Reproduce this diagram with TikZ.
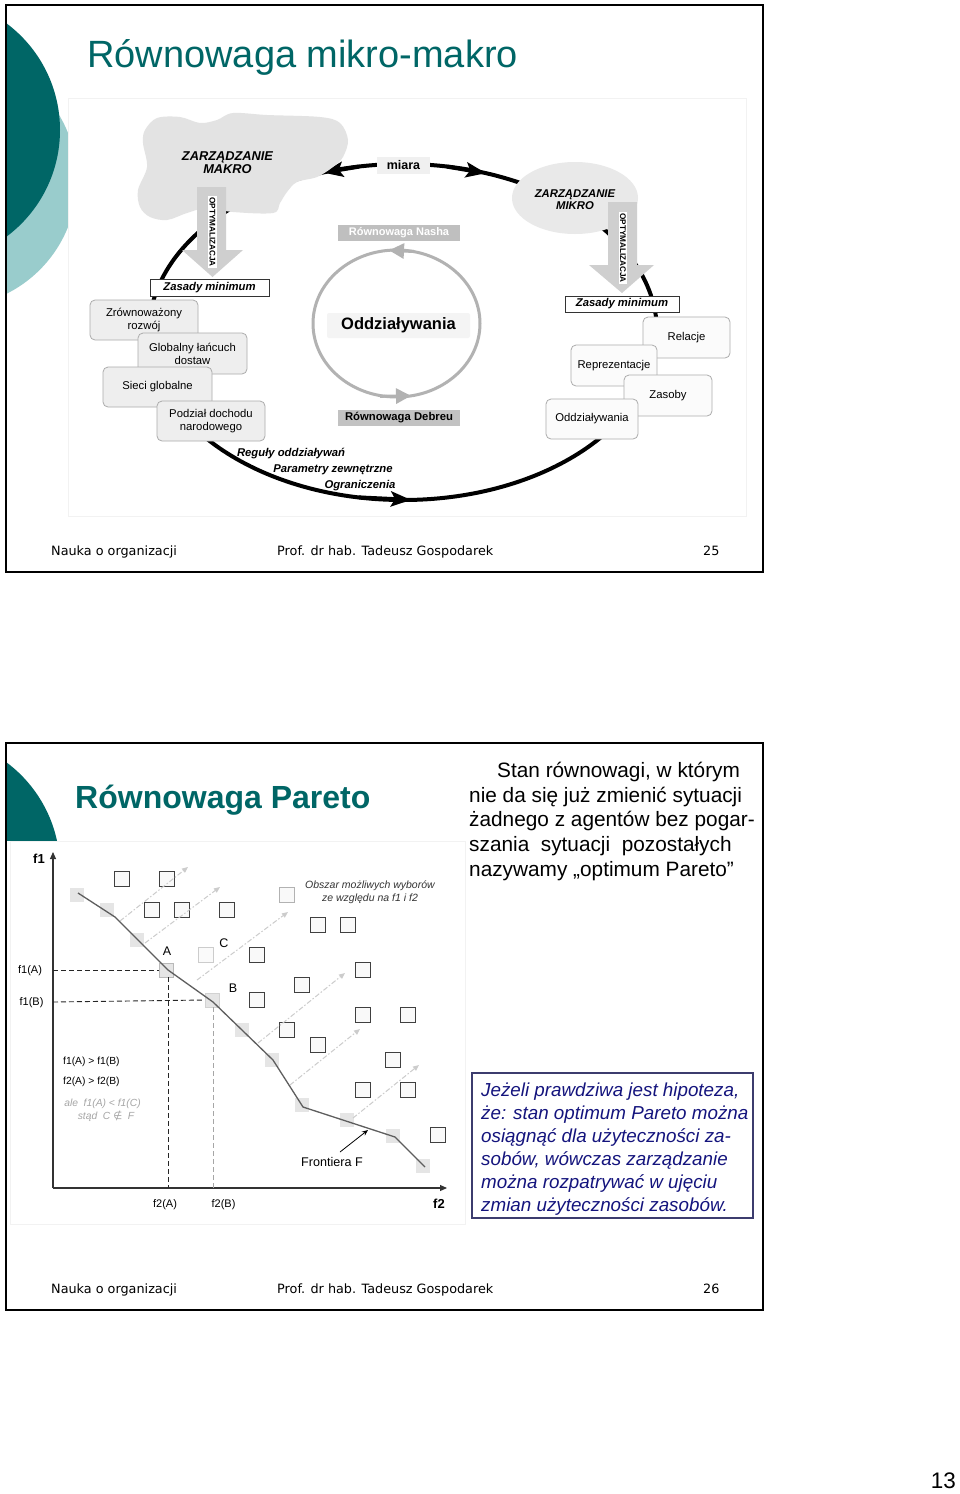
\documentclass[tikz,border=0pt]{standalone}
\usepackage{fontspec}
\setmainfont{Liberation Sans}
\newfontfamily\footfont{DejaVu Sans}
\newfontfamily\djv{DejaVu Sans}
\usetikzlibrary{arrows.meta}
\definecolor{tealdark}{RGB}{0,102,102}
\definecolor{teallight}{RGB}{153,204,204}
\definecolor{navytext}{RGB}{20,20,125}
\definecolor{navyframe}{RGB}{60,60,110}
\newcommand\fz[2]{\fontsize{#1}{#2}\selectfont}
\tikzset{
  rb/.style={draw=gray!65, fill=gray!13, rounded corners=5pt, line width=0.8pt, align=center, inner sep=0pt, font=\fz{11.3}{12.8}},
  wb/.style={draw=gray!65, fill=gray!3, rounded corners=5pt, line width=0.8pt, align=center, inner sep=0pt, font=\fz{11.3}{12.8}},
  zb/.style={draw=black!80, fill=white, line width=0.8pt, inner sep=0pt, font=\bfseries\itshape\fz{11.3}{12}},
  bi/.style={anchor=base, inner sep=0pt, font=\bfseries\itshape\fz{11.3}{12}},
  bigtip/.style={line width=4pt, -{Stealth[length=20pt,width=15pt,inset=4pt]}},
  graytip/.style={draw=gray!60, line width=3pt, -{Triangle[length=15pt,width=15pt]}},
  optarrow/.style={fill=gray!38},
  optlbl/.style={rotate=-90, fill=white, inner xsep=0pt, inner ysep=1.3pt, minimum width=72pt, font=\bfseries\fz{8.2}{8}},
  foot/.style={anchor=base west, inner sep=0pt, font=\footfont\fz{12.8}{14}},
  gsq/.style={fill=gray!20, minimum size=14pt, inner sep=0pt},
  osq/.style={draw=black!75, fill=gray!5, minimum size=15pt, inner sep=0pt, line width=1pt},
  axis/.style={line width=1.1pt, draw=black!80, -{Triangle[length=7pt,width=6pt]}},
  guide/.style={dash pattern=on 5pt off 3pt, line width=0.9pt},
  dar/.style={draw=gray!40, dash pattern=on 5pt off 2pt on 1.5pt off 2pt, line width=1pt, -{Triangle[length=6pt,width=5pt]}},
  lab/.style={anchor=base, inner sep=0pt, font=\fz{11}{12}},
  ptxt/.style={anchor=base west, inner sep=0pt, font=\fz{20.8}{24}},
  htxt/.style={anchor=base west, inner sep=0pt, text=navytext, font=\itshape\fz{18.8}{22}}
}
\begin{document}
\begin{tikzpicture}[x=1pt,y=-1pt]
\useasboundingbox (0,0) rectangle (960,1494);
\fill[white] (0,0) rectangle (960,1494);

%================ SLIDE 1 ================
\begin{scope}
\clip (6,5) rectangle (763,572);
\fill[teallight] (-50,180) circle[radius=127];
\fill[tealdark] (-73,130) circle[radius=133];
\end{scope}
\filldraw[fill=white, draw=gray!10, line width=0.6pt] (68,98) rectangle (746,516);
\draw[line width=2.2pt] (6,5) rectangle (763,572);

\node[anchor=base west, inner sep=0pt, text=tealdark, font=\fz{38}{40}] (t1) at (87,67) {Równowaga mikro-makro};

% big loop
\coordinate (bigc) at (403,332);
\draw[line width=4pt] (bigc) ellipse[x radius=254, y radius=168];
\coordinate (a1b) at (359,166.6); \coordinate (a1t) at (323,172.6);
\draw[bigtip] (a1b) -- (a1t);
\coordinate (a2b) at (447,166.6); \coordinate (a2t) at (486,173.2);
\draw[bigtip] (a2b) -- (a2t);
\coordinate (a3b) at (359,497.4); \coordinate (a3t) at (411,499.9);
\draw[bigtip] (a3b) -- (a3t);

% cloud MAKRO
\fill[gray!22] plot[smooth cycle, tension=0.55] coordinates {(145,130) (157,118) (180,117) (200,123) (217,120) (233,113) (267,115) (320,117) (340,123) (348,140) (343,157) (333,167) (317,177) (297,182) (287,192) (280,203) (273,213) (233,212) (207,208) (187,213) (167,220) (150,217) (140,207) (138,190) (147,167) (143,143)};
\node[anchor=base, inner sep=0pt, font=\bfseries\itshape\fz{12.8}{14}] (mak1) at (227.5,160) {ZARZĄDZANIE};
\node[anchor=base, inner sep=0pt, font=\bfseries\itshape\fz{12.8}{14}] (mak2) at (227.5,173) {MAKRO};

% ellipse MIKRO
\fill[gray!17] (575,198) ellipse[x radius=63, y radius=36];
\node[anchor=base, inner sep=0pt, font=\bfseries\itshape\fz{11.3}{12}] (mik1) at (575,197) {ZARZĄDZANIE};
\node[anchor=base, inner sep=0pt, font=\bfseries\itshape\fz{11.3}{12}] (mik2) at (575,209) {MIKRO};

% optimisation arrows
\fill[optarrow] (197,187) -- (226,187) -- (226,250) -- (243,250) -- (212.5,277) -- (182,250) -- (197,250) -- cycle;
\node[optlbl] (opt1) at (212.5,232) {OPTYMALIZACJA};
\fill[optarrow] (608,202) -- (637,202) -- (637,265) -- (654,265) -- (622,293) -- (589,265) -- (608,265) -- cycle;
\node[optlbl] (opt2) at (623,248) {OPTYMALIZACJA};

% Zasady minimum
\node[zb, minimum width=119pt, minimum height=17pt] (zas1) at (209.5,287.5) {Zasady minimum};
\node[zb, minimum width=114pt, minimum height=16pt] (zas2) at (622,304) {Zasady minimum};

% left boxes
\node[rb, minimum width=108pt, minimum height=40pt] (b1) at (144,320) {Zrównoważony\\rozwój};
\node[rb, minimum width=109pt, minimum height=41pt] (b2) at (192.5,353.5) {Globalny łańcuch\\dostaw};
\node[rb, minimum width=109pt, minimum height=40pt] (b3) at (157.5,387) {Sieci globalne};
\node[rb, minimum width=108pt, minimum height=40pt] (b4) at (211,421) {Podział dochodu\\narodowego};

% right boxes
\node[wb, minimum width=87pt, minimum height=41pt] (r1) at (686.5,337.5) {Relacje};
\node[wb, minimum width=86pt, minimum height=41pt] (r2) at (614,365.5) {Reprezentacje};
\node[wb, minimum width=88pt, minimum height=41pt] (r3) at (668,395.5) {Zasoby};
\node[wb, minimum width=92pt, minimum height=40pt] (r4) at (592,419) {Oddziaływania};

% central circle
\coordinate (cc) at (396.5,323.5);
\draw[draw=gray!60, line width=3pt] (cc) ellipse[x radius=83.5, y radius=73.5];
\coordinate (g1b) at (414,251.5); \coordinate (g1t) at (389,250.3);
\draw[graytip] (g1b) -- (g1t);
\coordinate (g2b) at (380,396.3); \coordinate (g2t) at (411,395.8);
\draw[graytip] (g2b) -- (g2t);
\node[fill=gray!9, rounded corners=2pt, minimum width=143pt, minimum height=25pt, inner sep=0pt, font=\bfseries\fz{16.5}{18}] (odz) at (398.5,325.5) {Oddziaływania};
\node[fill=gray!50, text=white, minimum width=122pt, minimum height=16pt, inner sep=0pt, font=\bfseries\fz{11}{12}] (nash) at (399,232.5) {Równowaga Nasha};
\node[fill=gray!48, minimum width=122pt, minimum height=16pt, inner sep=0pt, font=\bfseries\fz{11.3}{12}] (deb) at (399,418) {Równowaga Debreu};
\node[fill=gray!12, minimum width=53pt, minimum height=17pt, inner sep=0pt, font=\bfseries\fz{12.5}{13}] (miara) at (403.5,165.5) {miara};

% bottom labels
\node[bi] (l1) at (291,456) {Reguły oddziaływań};
\node[bi] (l2) at (333,472) {Parametry zewnętrzne};
\node[bi] (l3) at (360,488) {Ograniczenia};

% footer 1
\node[foot] (f1a) at (51,555) {Nauka o organizacji};
\node[foot] (f1b) at (277,555) {Prof. dr hab. Tadeusz Gospodarek};
\node[foot] (f1c) at (703,555) {25};

%================ SLIDE 2 ================
\begin{scope}
\clip (6,743) rectangle (763,840.5);
\fill[tealdark] (-73,869) circle[radius=133];
\end{scope}
\draw[gray!10, line width=0.6pt] (10,841) rectangle (465,1224);
\draw[line width=2.2pt] (6,743) rectangle (763,1310);

\node[anchor=base west, inner sep=0pt, text=tealdark, font=\bfseries\fz{32}{34}] (t2) at (75,808) {Równowaga Pareto};

\node[ptxt] (p1) at (497,777) {Stan równowagi, w którym};
\node[ptxt] (p2) at (469,802) {nie da się już zmienić sytuacji};
\node[ptxt] (p3) at (469,826) {żadnego z agentów bez pogar-};
\node[ptxt] (p4) at (469,851) {szania\ \ sytuacji\ \ pozostałych};
\node[ptxt] (p5) at (469,876) {nazywamy „optimum Pareto”};

\node[draw=navyframe, line width=1.2pt, minimum width=281pt, minimum height=145pt, inner sep=0pt] (hbox) at (612.5,1145.5) {};
\node[htxt] (h1) at (481,1096) {Jeżeli prawdziwa jest hipoteza,};
\node[htxt] (h2) at (481,1119) {że: stan optimum Pareto można};
\node[htxt] (h3) at (481,1142) {osiągnąć dla użyteczności za-};
\node[htxt] (h4) at (481,1165) {sobów, wówczas zarządzanie};
\node[htxt] (h5) at (481,1188) {można rozpatrywać w ujęciu};
\node[htxt] (h6) at (481,1211) {zmian użyteczności zasobów.};

% chart
\coordinate (O) at (53,1188);
\coordinate (ytop) at (53,852);
\coordinate (xend) at (447,1188);
\draw[axis] (O) -- (ytop);
\draw[axis] (O) -- (xend);

% frontier squares
\foreach \x/\y [count=\i] in {77/895,107/910,137/940,242/1030,272/1060,302/1105,347/1120,393/1136,423/1166}
  \node[gsq] (fq\i) at (\x,\y) {};
\node[gsq, draw=gray!55, line width=0.8pt] (sqA) at (166,970) {};
\node[gsq, draw=gray!35, line width=0.8pt] (sqB) at (212,1000) {};
\node[osq, draw=gray!40, fill=gray!4] (sqC) at (206,955) {};
% other choices
\foreach \x/\y [count=\i] in {122/879,167/879,152/910,182/910,227/910,318/925,348/925,257/955,363/970,302/985,257/1000,363/1015,408/1015,287/1030,318/1045,393/1060,363/1090,408/1090,438/1135}
  \node[osq] (oq\i) at (\x,\y) {};
\node[osq, draw=gray!60] (oqx) at (287,895) {};

% guide lines
\coordinate (yA) at (53,970); \coordinate (xA) at (168,1188);
\coordinate (yB) at (53,1002); \coordinate (xB) at (213,1188);
\draw[guide, black!85] (yA) -- (sqA.west);
\draw[guide, black!85] (sqA.south -| xA) -- (xA);
\draw[guide, black!85] (yB) -- (sqB.west);
\draw[guide, gray!70] (sqB.south -| xB) -- (xB);

% dashed arrows
\foreach \ax/\ay/\bx/\by [count=\i] in {120/921/188/867,145/943/220/887,197/980/288/912,258/1043/345/973,290/1085/360/1029,353/1118/419/1065}{
  \coordinate (ds\i) at (\ax,\ay); \coordinate (de\i) at (\bx,\by);
  \draw[dar] (ds\i) -- (de\i);
}

% frontier
\draw[gray!60!black!90, line width=1.3pt] (78,893) -- (115,917) -- (168,970) -- (213,1002) -- (273,1060) -- (303,1107) -- (395,1137) -- (425,1167);

% chart texts
\node[anchor=base, inner sep=0pt, font=\bfseries\fz{13}{14}] (lf1) at (39,863) {f1};
\node[anchor=base, inner sep=0pt, font=\bfseries\fz{13}{14}] (lf2) at (439,1208) {f2};
\node[lab] (lfa) at (30,973) {f1(A)};
\node[lab] (lfb) at (31.5,1005) {f1(B)};
\node[lab] (lxa) at (165,1207) {f2(A)};
\node[lab] (lxb) at (223.5,1207) {f2(B)};
\node[anchor=base, inner sep=0pt, font=\fz{12.5}{13}] (lA) at (167,955) {A};
\node[anchor=base, inner sep=0pt, font=\fz{12.5}{13}] (lC) at (224,947) {C};
\node[anchor=base, inner sep=0pt, font=\fz{12.5}{13}] (lB) at (233,992) {B};
\node[anchor=base west, inner sep=0pt, font=\fz{10.3}{11}] (c1) at (63,1064) {f1(A) > f1(B)};
\node[anchor=base west, inner sep=0pt, font=\fz{10.3}{11}] (c2) at (63,1084) {f2(A) > f2(B)};
\node[anchor=base, inner sep=0pt, text=gray!70, font=\itshape\fz{10.3}{11}] (c3) at (102.5,1106) {ale\ \ f1(A) < f1(C)};
\node[anchor=base, inner sep=0pt, text=gray!70, font=\itshape\fz{10.3}{11}] (c4) at (106,1119) {stąd\ \ C {\djv\itshape ∉}\ \ F};
\node[anchor=base, inner sep=0pt, text=black!80, font=\itshape\fz{10.5}{12}] (ob1) at (370,888) {Obszar możliwych wyborów};
\node[anchor=base, inner sep=0pt, text=black!80, font=\itshape\fz{10.5}{12}] (ob2) at (370,901) {ze względu na f1 i f2};
\node[anchor=base, inner sep=0pt, font=\fz{12.6}{14}] (fr) at (332,1166) {Frontiera F};
\coordinate (fra) at (340,1152); \coordinate (frb) at (368,1130);
\draw[line width=0.8pt, -{Stealth[length=6pt,width=5pt]}] (fra) -- (frb);

% footer 2
\node[foot] (f2a) at (51,1293) {Nauka o organizacji};
\node[foot] (f2b) at (277,1293) {Prof. dr hab. Tadeusz Gospodarek};
\node[foot] (f2c) at (703,1293) {26};

\node[anchor=base east, inner sep=0pt, font=\fz{22.5}{24}] (pg) at (956,1488) {13};
\end{tikzpicture}
\end{document}
